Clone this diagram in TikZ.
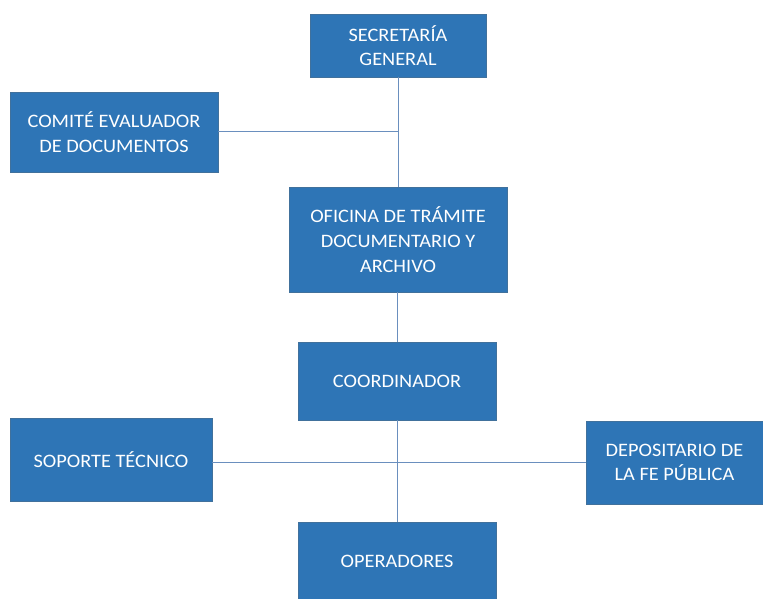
\documentclass[tikz,border=0pt]{standalone}
\usepackage{fontspec}
\setmainfont{Carlito}[FakeStretch=1.07]
\usepackage{xcolor}
\usepackage{tikz}
\usetikzlibrary{positioning, calc}

\definecolor{boxblue}{HTML}{2E75B6}
\definecolor{boxedge}{HTML}{41719C}
\definecolor{linkblue}{HTML}{6A8FBE}

\begin{document}
\begin{tikzpicture}[x=1pt, y=-1pt,
    unit/.style={fill=boxblue, draw=boxedge, thin, text=white, align=center,
      font=\fontsize{19}{24.7}\selectfont, inner sep=0pt},
    link/.style={draw=linkblue, line width=1pt}
  ]
  \useasboundingbox (0,0) rectangle (763,599);
  % Top levels
  \node[unit, minimum width=176, minimum height=63] (secretaria) at (398,45.5) {SECRETARÍA\\GENERAL};
  \node[unit, minimum width=208, minimum height=80] (comite) at (114,132) {COMITÉ EVALUADOR\\DE DOCUMENTOS};
  \node[unit, minimum width=218, minimum height=105] (oficina) at (398,239.5) {OFICINA DE TRÁMITE\\DOCUMENTARIO Y\\ARCHIVO};
  % Lower levels
  \node[unit, minimum width=198, minimum height=78] (coordinador) at (397,381) {COORDINADOR};
  \node[unit, minimum width=202, minimum height=83] (soporte) at (111,460) {SOPORTE TÉCNICO};
  \node[unit, minimum width=177, minimum height=83] (depositario) at (674.5,462.5) {DEPOSITARIO DE\\LA FE PÚBLICA};
  \node[unit, minimum width=198, minimum height=78] (operadores) at (397,561) {OPERADORES};
  % Connectors
  \draw[link] (secretaria) -- (oficina);
  \draw[link] (comite.east) -- (comite.east -| secretaria.south);
  \draw[link] (oficina.south -| coordinador.north) -- (coordinador.north);
  \draw[link] (coordinador) -- (operadores);
  \draw[link] (soporte.east |- depositario.west) -- (depositario.west);
\end{tikzpicture}
\end{document}
